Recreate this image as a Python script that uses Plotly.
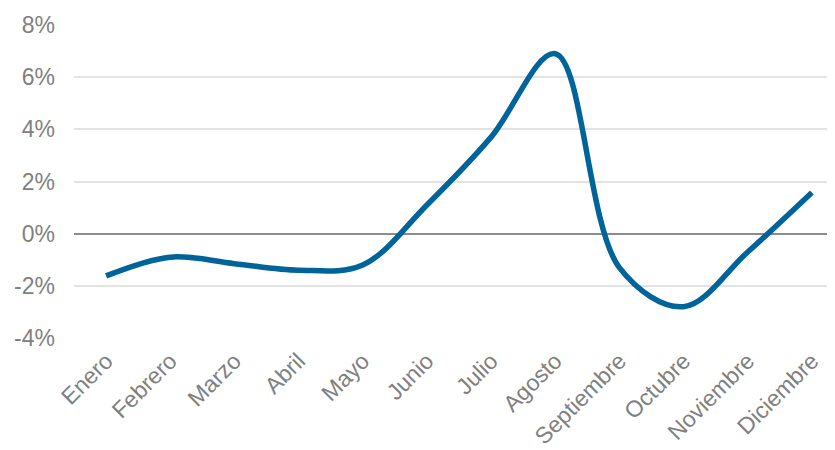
import plotly.graph_objects as go

months = ["Enero", "Febrero", "Marzo", "Abril", "Mayo", "Junio", "Julio",
          "Agosto", "Septiembre", "Octubre", "Noviembre", "Diciembre"]
values = [-1.62, -0.9, -1.15, -1.4, -1.2, 1.1, 3.7, 6.9, -1.3, -2.8, -0.7, 1.58]
y_ticks = [-4, -2, 0, 2, 4, 6, 8]
y_labels = ["-4%", "-2%", "0%", "2%", "4%", "6%", "8%"]

fig = go.Figure()
fig.add_trace(go.Scatter(
    x=months, y=values, mode="lines",
    line=dict(color="#00649A", width=5.5, shape="spline", smoothing=1.0),
    hoverinfo="skip",
))

fig.update_layout(
    width=827, height=442,
    margin=dict(l=66, r=0, t=17, b=112, autoexpand=False),
    paper_bgcolor="white", plot_bgcolor="white",
    showlegend=False,
    font=dict(family="Liberation Sans, Arial, sans-serif", color="#808080", size=23),
)
fig.update_xaxes(
    type="category", range=[-0.5, 11.36], tickangle=-45,
    showgrid=False, showline=False, ticks="", automargin=False,
    ticklabelstandoff=4, tickfont=dict(size=23),
)
fig.update_yaxes(
    range=[-4, 8], tickvals=y_ticks, ticktext=y_labels,
    showgrid=True, gridcolor="#E3E3E3", gridwidth=1.5,
    zeroline=True, zerolinecolor="#8C8C8C", zerolinewidth=1.5,
    ticks="", ticklabelstandoff=18, automargin=False,
    tickfont=dict(size=23),
)

fig.write_html("out.html")
